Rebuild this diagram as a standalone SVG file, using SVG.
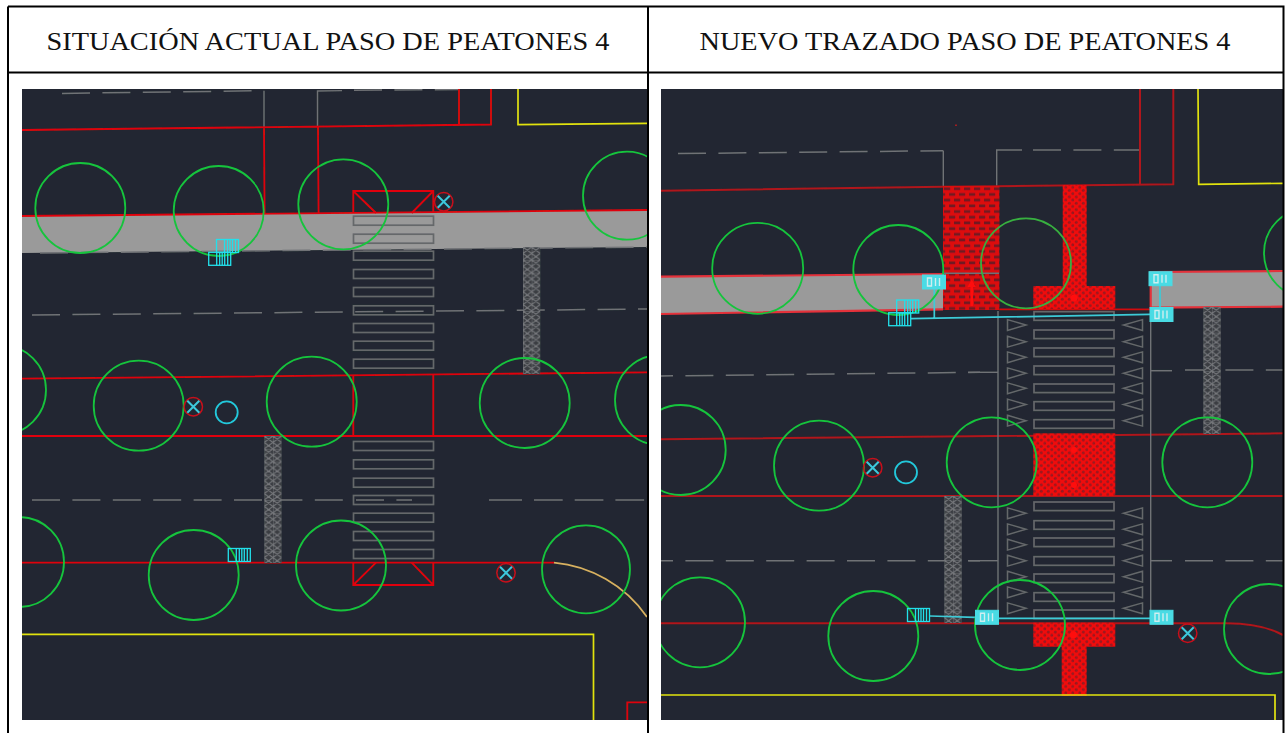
<svg xmlns="http://www.w3.org/2000/svg" width="1286" height="733" viewBox="0 0 1286 733">
<style>
.t{fill:none;stroke:#17c43d;stroke-width:1.8}
.r{fill:none;stroke:#e0060c;stroke-width:1.8}
.rd{fill:none;stroke:#b0141a;stroke-width:2}
.y{fill:none;stroke:#e2e210;stroke-width:1.7}
.g{fill:none;stroke:#707276;stroke-width:1.4}
.d{fill:none;stroke:#707276;stroke-width:1.5;stroke-dasharray:28 12.4}
.s{fill:none;stroke:#65676b;stroke-width:1.7}
.c{fill:none;stroke:#22e0ec;stroke-width:1.3}
.cl{fill:none;stroke:#3ccbd8;stroke-width:1.7}
.cf{fill:#48dbe4;stroke:#48dbe4}
.band{fill:#9a9a9a}
.lc{fill:none;stroke:#c8101c;stroke-width:1.5}
.lx{fill:none;stroke:#3cc8dc;stroke-width:2}
.tx{font-family:"Liberation Serif","DejaVu Serif",serif;font-size:24.5px;fill:#111}
.b{stroke:#000;stroke-width:2;fill:none}
</style>
<defs>
<filter id="soft" filterUnits="userSpaceOnUse" x="0" y="80" width="1286" height="653"><feGaussianBlur stdDeviation="0.35"/></filter>
<clipPath id="cl"><rect x="22" y="89" width="625" height="631"/></clipPath>
<clipPath id="cr"><rect x="661" y="89" width="622" height="631"/></clipPath>
<pattern id="truss" width="8.6" height="12.8" patternUnits="userSpaceOnUse">
<rect width="8.6" height="12.8" fill="#3a3d42"/>
<path d="M0 0H8.6M0 0V12.8M0 0L8.6 6.4L0 12.8M8.6 0L0 6.4L8.6 12.8" fill="none" stroke="#74767a" stroke-width="1"/>
</pattern>
<pattern id="brick" width="10" height="11.4" patternUnits="userSpaceOnUse">
<rect width="10" height="11.4" fill="#dc0a10"/>
<path d="M1 1.4h6.2v2.6h-6.2zM6 7.1h4v2.6h-4zM0 7.1h2.2v2.6h-2.2z" fill="#701a22"/>
</pattern>
<pattern id="hex" width="7" height="6.4" patternUnits="userSpaceOnUse">
<rect width="7" height="6.4" fill="#ee080c"/>
<circle cx="1.8" cy="1.6" r="1.4" fill="#981a20"/>
<circle cx="5.3" cy="4.8" r="1.4" fill="#981a20"/>
</pattern>
<g id="lamp"><circle r="9.2" class="lc"/><path d="M-6-6L6 6M6-6L-6 6" class="lx"/></g>
<g id="hatch"><rect x="0" y="0" width="22" height="13" class="c"/><path d="M8 0v13M11 0v13M13.5 0v13M16 0v13M19 0v13" class="c"/></g>
<g id="box"><rect x="0" y="0" width="23" height="14" class="cf"/><path d="M5 3h4v8h-4zM13 3v8M17 3v8" fill="none" stroke="#cfeef0" stroke-width="1.4"/></g>
<path id="tl" d="M0-5.4L18.5 0L0 5.4Z" fill="none" stroke="#65676b" stroke-width="1.5"/>
<path id="tri" d="M0-5.4L-19 0L0 5.4Z" fill="none" stroke="#65676b" stroke-width="1.5"/>
</defs>

<rect width="1286" height="733" fill="#fff"/>

<g clip-path="url(#cl)">
<g id="left-panel" filter="url(#soft)">
<rect x="22" y="89" width="625" height="631" fill="#212830"/>
<path class="band" d="M22 216L647 210V247L22 253Z"/>
<path class="r" d="M22 216L647 210"/>
<path class="d" d="M40 253L647 247"/>
<path class="d" d="M62 93.4L264 90.7"/>
<path class="g" d="M264 90.7V127M317.5 127V91L342 90.6"/>
<path class="d" d="M354 90.3L459 89.6"/>
<path class="r" d="M22 130L491 124.5V89M459 125V89M264 127L264.6 214M318 127L318.6 213"/>
<path class="y" d="M518 89V124.6L647 123.4"/>
<path class="d" d="M32 315L647 309"/>
<path class="d" d="M32 500H343"/>
<path class="d" d="M356 500H412"/>
<path class="d" d="M489 500L647 500" style="stroke-dasharray:33 12 28.7 12 28.7 12 28.7 12"/>
<path class="r" d="M22 378.7L647 372.3M22 436H647M22 562.7H554"/>
<path fill="none" stroke="#d8b060" stroke-width="1.8" d="M554 562.7C590 566 625 585 647 617"/>
<path class="r" d="M353.3 213V191H433.3V213M353.3 191L376 213M433.3 191L411.7 213"/>
<path class="r" d="M353.3 375V436M433.3 375V436"/>
<path class="r" d="M353.3 562.7V585H433.3V562.7M353.3 585L376 562.7M433.3 585L411.7 562.7"/>
<g id="left-stripes">
<rect x="353.5" y="216.2" width="80" height="9" class="s"/><rect x="353.5" y="234.2" width="80" height="9" class="s"/><rect x="353.5" y="251.2" width="80" height="9" class="s"/><rect x="353.5" y="269.5" width="80" height="9" class="s"/><rect x="353.5" y="287.5" width="80" height="9" class="s"/><rect x="353.5" y="305.8" width="80" height="9" class="s"/><rect x="353.5" y="323.5" width="80" height="9" class="s"/><rect x="353.5" y="341.2" width="80" height="9" class="s"/><rect x="353.5" y="359.2" width="80" height="9" class="s"/>
<rect x="353.5" y="441.5" width="80" height="9" class="s"/><rect x="353.5" y="459.8" width="80" height="9" class="s"/><rect x="353.5" y="478.2" width="80" height="9" class="s"/><rect x="353.5" y="495.5" width="80" height="9" class="s"/><rect x="353.5" y="513.2" width="80" height="9" class="s"/><rect x="353.5" y="531.5" width="80" height="9" class="s"/><rect x="353.5" y="549.5" width="80" height="9" class="s"/>
</g>
<rect transform="translate(523 247)" width="17.2" height="127" fill="url(#truss)"/>
<rect transform="translate(264.3 436)" width="17.2" height="127" fill="url(#truss)"/>
<g id="left-trees">
<circle cx="80.3" cy="208" r="45" class="t"/><circle cx="218.7" cy="211" r="45" class="t"/><circle cx="343.3" cy="204.3" r="45" class="t"/><circle cx="627" cy="195.7" r="44" class="t"/>
<circle cx="1" cy="390" r="45" class="t"/><circle cx="138.7" cy="405.7" r="45" class="t"/><circle cx="311.7" cy="401.7" r="45" class="t"/><circle cx="524.7" cy="403" r="45" class="t"/><circle cx="660" cy="400" r="45" class="t"/>
<circle cx="19" cy="562" r="45" class="t"/><circle cx="193.7" cy="575" r="45" class="t"/><circle cx="341" cy="565.5" r="45" class="t"/><circle cx="586" cy="569.3" r="44" class="t"/>
</g>
<use href="#hatch" x="216.5" y="239.5"/>
<use href="#hatch" x="208.7" y="252.3"/>
<use href="#hatch" x="228.3" y="548.5"/>
<use href="#lamp" x="443.7" y="201.7"/>
<use href="#lamp" x="193.3" y="406.7"/>
<use href="#lamp" x="506" y="572.7"/>
<circle cx="226.7" cy="412.3" r="11" fill="none" stroke="#22c8dc" stroke-width="1.8"/>
<path class="y" d="M22 634.3H593.5V720"/>
<path class="r" d="M627.3 720V702.3H647"/>
</g>
</g>

<g clip-path="url(#cr)">
<g id="right-panel" filter="url(#soft)">
<rect x="661" y="89" width="622" height="631" fill="#212830"/>
<path class="band" d="M661 276.7L943 274V309.3L661 314Z"/>
<path class="band" d="M1150.7 272L1283 271V306.7L1150.7 307.7Z"/>
<path fill="none" stroke="#e4303a" stroke-width="2.2" d="M661 276.7L943 274M661 314L943 309.3M1283 271L1150.7 272V307.7L1283 306.7"/>
<path class="d" d="M678 153.6L943.3 150.7"/>
<path class="g" d="M943.3 150.7V186M996.7 186V150H1022"/>
<path class="d" d="M1033 150H1140"/>
<rect x="955" y="124.5" width="2" height="1.5" fill="#a01a20"/>
<path class="rd" d="M661 190.7L943 186.7L1173.3 184.3V89M1140 184.7V89"/>
<path class="y" d="M1198 89L1198.7 184.3L1283 183.3"/>
<path class="d" d="M661 376L980 372.3" style="stroke-dashoffset:16"/>
<path class="g" d="M968 372.3H998"/>
<path class="d" d="M1150 370.7H1172"/>
<path class="d" d="M1185 370H1283"/>
<path class="d" d="M661 560.7H980" style="stroke-dashoffset:16"/>
<path class="g" d="M968 560.7H998"/>
<path class="d" d="M1150 560.7H1172"/>
<path class="d" d="M1185 560.7H1283"/>
<path class="rd" d="M661 439.3L1283 433.3M661 496H1283M661 623.3H1226.7C1250 623.3 1268 627 1283 635"/>
<path fill="none" stroke="#d00a10" stroke-width="1.8" d="M999 309.3H1150"/>
<path class="g" d="M998 311V623M1150.7 311V623"/>
<rect transform="translate(943 186)" width="56.5" height="124" fill="url(#brick)"/>
<path class="g" d="M943 273.3H999"/>
<path d="M970.4 306V287H967.5L971.7 279.5L975.9 287H973V306Z" fill="#ff0a10"/>
<path d="M1062.7 185H1086.7V286H1115.3V309H1033.3V286H1062.7Z" fill="url(#hex)"/>
<rect x="1033.3" y="433.3" width="82" height="62.7" fill="url(#hex)"/>
<path d="M1033.3 622.7H1115.3V646.7H1086.7V696H1061.7V646.7H1033.3Z" fill="url(#hex)"/>
<circle cx="1074" cy="298" r="3.5" fill="#ff0a10"/><circle cx="1073.5" cy="634.7" r="3.5" fill="#ff0a10"/>
<circle cx="1074" cy="450" r="3" fill="#ff0a10"/><circle cx="1074" cy="485" r="3" fill="#ff0a10"/>
<g id="right-stripes">
<rect x="1034" y="311.7" width="80" height="8.6" class="s"/><rect x="1034" y="330" width="80" height="8.6" class="s"/><rect x="1034" y="348" width="80" height="8.6" class="s"/><rect x="1034" y="366" width="80" height="8.6" class="s"/><rect x="1034" y="384" width="80" height="8.6" class="s"/><rect x="1034" y="401.7" width="80" height="8.6" class="s"/><rect x="1034" y="419.7" width="80" height="8.6" class="s"/>
<rect x="1034" y="502" width="80" height="8.6" class="s"/><rect x="1034" y="520.7" width="80" height="8.6" class="s"/><rect x="1034" y="538" width="80" height="8.6" class="s"/><rect x="1034" y="556.7" width="80" height="8.6" class="s"/><rect x="1034" y="574" width="80" height="8.6" class="s"/><rect x="1034" y="592.7" width="80" height="8.6" class="s"/><rect x="1034" y="610" width="80" height="8.6" class="s"/>
</g>
<g id="right-triangles">
<use href="#tl" x="1007.5" y="325"/><use href="#tl" x="1007.5" y="341.7"/><use href="#tl" x="1007.5" y="357.3"/><use href="#tl" x="1007.5" y="373.3"/><use href="#tl" x="1007.5" y="388.3"/><use href="#tl" x="1007.5" y="404.5"/><use href="#tl" x="1007.5" y="420.7"/>
<use href="#tl" x="1007.5" y="513.3"/><use href="#tl" x="1007.5" y="529.3"/><use href="#tl" x="1007.5" y="544.7"/><use href="#tl" x="1007.5" y="560.7"/><use href="#tl" x="1007.5" y="576.7"/><use href="#tl" x="1007.5" y="592.3"/><use href="#tl" x="1007.5" y="608.3"/>
<use href="#tri" x="1142.5" y="325"/><use href="#tri" x="1142.5" y="341.7"/><use href="#tri" x="1142.5" y="357.3"/><use href="#tri" x="1142.5" y="373.3"/><use href="#tri" x="1142.5" y="388.3"/><use href="#tri" x="1142.5" y="404.5"/><use href="#tri" x="1142.5" y="420.7"/>
<use href="#tri" x="1142.5" y="513.3"/><use href="#tri" x="1142.5" y="529.3"/><use href="#tri" x="1142.5" y="544.7"/><use href="#tri" x="1142.5" y="560.7"/><use href="#tri" x="1142.5" y="576.7"/><use href="#tri" x="1142.5" y="592.3"/><use href="#tri" x="1142.5" y="608.3"/>
</g>
<rect transform="translate(1203.3 307)" width="17.4" height="127" fill="url(#truss)"/>
<rect transform="translate(944.3 496)" width="17.4" height="127" fill="url(#truss)"/>
<path class="cl" d="M911 318.7L1150 314.3M934.3 288V318M1160 285.7V308M930 616L975 617.3M999 618.3H1150"/>
<g id="right-trees">
<circle cx="757.7" cy="268.3" r="45.5" class="t"/><circle cx="898.3" cy="270" r="45" class="t"/><circle cx="1026" cy="263.3" r="45" class="t" style="stroke:#38b040"/><circle cx="1309" cy="253" r="45" class="t"/>
<circle cx="680.7" cy="450" r="45" class="t"/><circle cx="819" cy="465.7" r="45" class="t"/><circle cx="991.7" cy="462.3" r="45" class="t"/><circle cx="1207.3" cy="462.3" r="45" class="t"/>
<circle cx="700" cy="622.3" r="45" class="t"/><circle cx="873.3" cy="636" r="45" class="t"/><circle cx="1020" cy="625" r="45" class="t"/><circle cx="1269" cy="629" r="45" class="t"/>
</g>
<use href="#box" x="922.5" y="275"/>
<use href="#box" x="1149" y="271.7"/>
<use href="#box" x="1150" y="307.5"/>
<use href="#box" x="975.5" y="610.3"/>
<use href="#box" x="1150" y="610.3"/>
<use href="#hatch" x="896.7" y="300"/>
<use href="#hatch" x="888.7" y="312.7"/>
<use href="#hatch" x="907.5" y="608.5"/>
<use href="#lamp" x="872.7" y="467.7"/>
<use href="#lamp" x="1187.7" y="633.3"/>
<circle cx="906" cy="472.3" r="11" fill="none" stroke="#22c8dc" stroke-width="1.8"/>
<path class="y" d="M661 695H1275V720"/>
</g>
</g>

<g id="table">
<path class="b" d="M8 6.5H1283.5V733M8 6.5V733M648 6.5V733M8 72.5H1283.5"/>
</g>
<text class="tx" x="328" y="49.5" text-anchor="middle" textLength="563" lengthAdjust="spacingAndGlyphs">SITUACIÓN ACTUAL PASO DE PEATONES 4</text>
<text class="tx" x="965" y="49.5" text-anchor="middle" textLength="531" lengthAdjust="spacingAndGlyphs">NUEVO TRAZADO PASO DE PEATONES 4</text>
</svg>
